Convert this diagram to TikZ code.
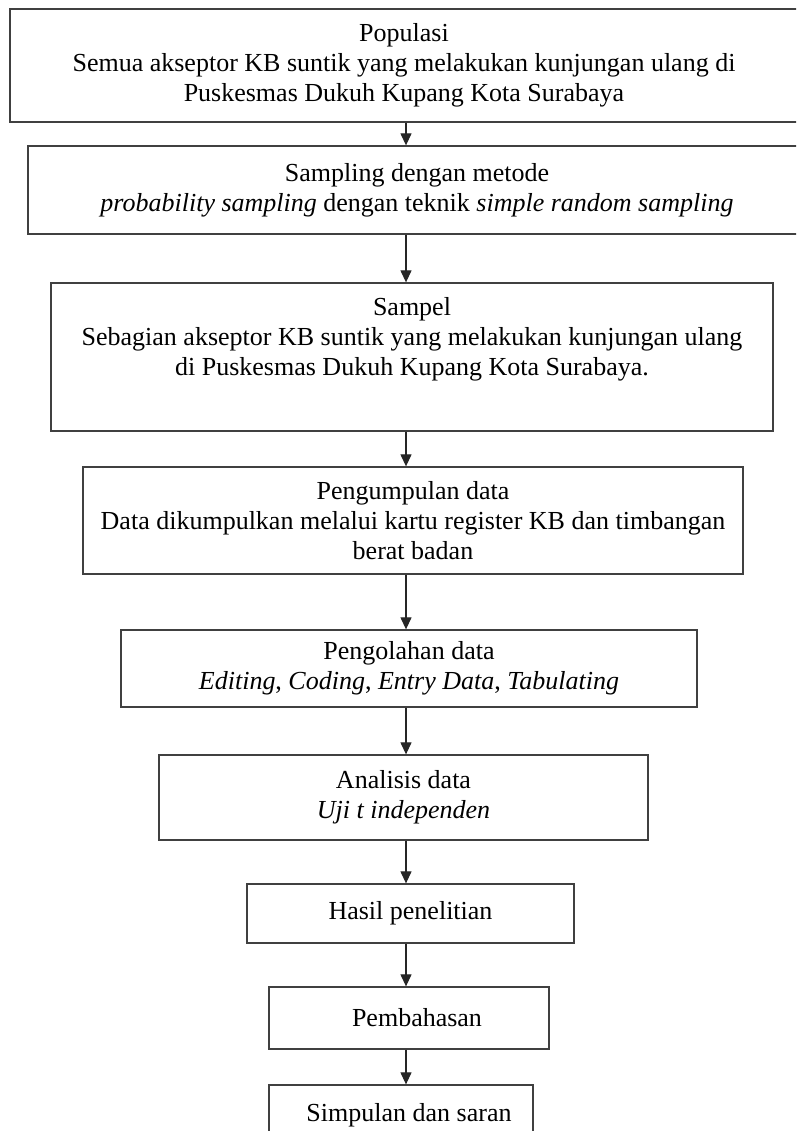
\documentclass[tikz,border=0pt]{standalone}
\usepackage{fontspec}
\setmainfont{Liberation Serif}
\usetikzlibrary{arrows.meta}
\begin{document}
\begin{tikzpicture}[x=1pt,y=-1pt,
  box/.style={draw=black!75, line width=1.3pt, rectangle, inner sep=0pt, align=center,
    font=\fontsize{26}{30}\selectfont},
  txt/.style={inner sep=0pt, align=center, font=\fontsize{26}{30}\selectfont},
  arr/.style={draw=black!85, line width=1.2pt, -{Triangle[length=12pt,width=11pt]}}]
\useasboundingbox (0,0) rectangle (796,1131);
\clip (0,0) rectangle (796,1131);
\fill[white] (0,0) rectangle (796,1131);
\node[box, minimum width=788pt, minimum height=113pt] (b1) at (404,65.5)
  {Populasi\\Semua akseptor KB suntik yang melakukan kunjungan ulang di\\Puskesmas Dukuh Kupang Kota Surabaya};
\node[box, minimum width=778pt, minimum height=88pt] (b2) at (417,190)
  {Sampling dengan metode\\\textit{probability sampling} dengan teknik \textit{simple random sampling}};
\node[box, minimum width=722pt, minimum height=148pt] (b3) at (412,357) {};
\node[txt] (t3) at (412,339)
  {Sampel\\Sebagian akseptor KB suntik yang melakukan kunjungan ulang\\di Puskesmas Dukuh Kupang Kota Surabaya.};
\node[box, minimum width=660pt, minimum height=107pt] (b4) at (413,520.5)
  {Pengumpulan data\\Data dikumpulkan melalui kartu register KB dan timbangan\\berat badan};
\node[box, minimum width=576pt, minimum height=77pt] (b5) at (409,668.5)
  {Pengolahan data\\\textit{Editing}, \textit{Coding}, \textit{Entry Data}, \textit{Tabulating}};
\node[box, minimum width=489pt, minimum height=85pt] (b6) at (403.5,797.5)
  {Analisis data\\\textit{Uji t independen}};
\node[box, minimum width=327pt, minimum height=59pt] (b7) at (410.5,913.5) {Hasil penelitian};
\node[box, minimum width=280pt, minimum height=62pt] (b8) at (409,1018) {};
\node[txt] (t8) at (417,1018) {Pembahasan};
\node[box, minimum width=264pt, minimum height=60pt] (b9) at (401,1115) {};
\node[txt] (t9) at (409,1115) {Simpulan dan saran};
\coordinate (ax) at (406,0);
\draw[arr] (ax |- b1.south) -- (ax |- b2.north);
\draw[arr] (ax |- b2.south) -- (ax |- b3.north);
\draw[arr] (ax |- b3.south) -- (ax |- b4.north);
\draw[arr] (ax |- b4.south) -- (ax |- b5.north);
\draw[arr] (ax |- b5.south) -- (ax |- b6.north);
\draw[arr] (ax |- b6.south) -- (ax |- b7.north);
\draw[arr] (ax |- b7.south) -- (ax |- b8.north);
\draw[arr] (ax |- b8.south) -- (ax |- b9.north);
\end{tikzpicture}
\end{document}
